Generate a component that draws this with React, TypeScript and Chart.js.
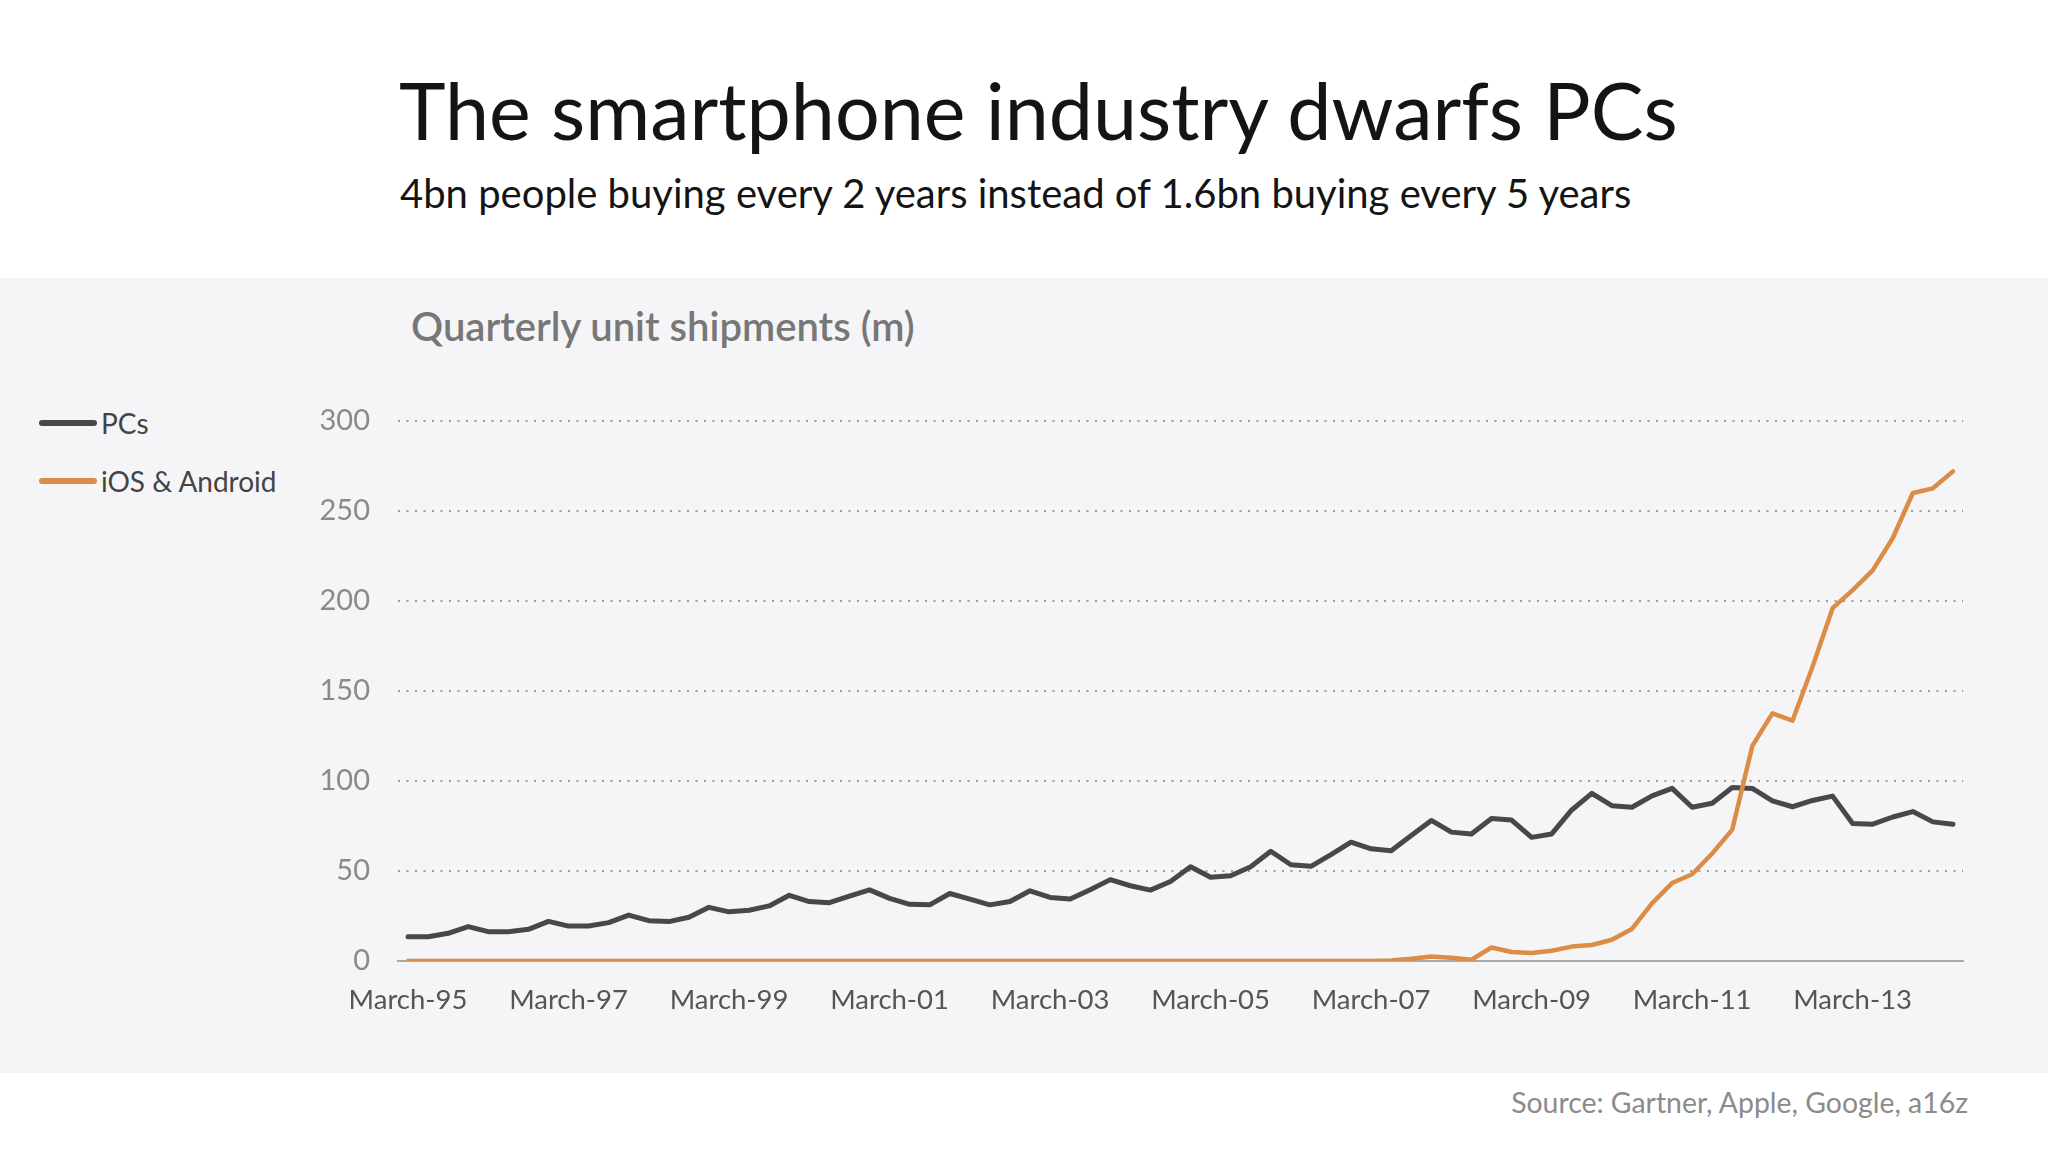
import React, { useEffect, useRef } from 'react';
import { Chart, registerables } from 'chart.js';

Chart.register(...registerables);

// quarter labels, March-95 .. June-14
const quarterMonths = ['March', 'June', 'September', 'December'];
const years = ['95', '96', '97', '98', '99', '00', '01', '02', '03', '04', '05', '06', '07', '08', '09', '10', '11', '12', '13', '14'];
const quarters: string[] = [];
years.forEach((y) => quarterMonths.forEach((m) => quarters.push(m + '-' + y)));
const categories = quarters.slice(0, 78);

// quarterly unit shipments, millions
const pcShipments = [
    13.5, 13.5, 15.4, 19.1, 16.3, 16.3, 17.6, 22.0, 19.4, 19.4,
    21.3, 25.5, 22.4, 21.9, 24.3, 29.8, 27.3, 28.2, 30.6, 36.5,
    33.0, 32.4, 36.0, 39.5, 34.8, 31.5, 31.2, 37.5, 34.4, 31.2,
    33.1, 39.0, 35.3, 34.4, 39.6, 45.2, 41.8, 39.4, 44.2, 52.4,
    46.5, 47.4, 52.4, 61.0, 53.5, 52.6, 59.1, 66.0, 62.3, 61.3,
    69.7, 78.1, 71.6, 70.6, 79.2, 78.3, 68.7, 70.6, 83.9, 93.1,
    86.3, 85.4, 91.7, 95.9, 85.4, 87.6, 96.4, 95.9, 89.0, 85.7,
    89.2, 91.6, 76.4, 76.0, 80.0, 83.0, 77.3, 76.0,
];

const smartphoneShipments = [
    0, 0, 0, 0, 0, 0, 0, 0, 0, 0,
    0, 0, 0, 0, 0, 0, 0, 0, 0, 0,
    0, 0, 0, 0, 0, 0, 0, 0, 0, 0,
    0, 0, 0, 0, 0, 0, 0, 0, 0, 0,
    0, 0, 0, 0, 0, 0, 0, 0, 0, 0.3,
    1.2, 2.5, 1.8, 0.7, 7.5, 5.0, 4.4, 5.7, 8.0, 8.9,
    11.8, 17.8, 32.0, 43.3, 48.2, 59.7, 73.0, 119.5, 137.6, 133.5,
    163.5, 196.0, 206.0, 217.0, 235.0, 260.0, 262.6, 272.0,
];

const yTicks = [0, 50, 100, 150, 200, 250, 300];

const FONT = 'Lato, "Open Sans", sans-serif';
const PC_COLOR = '#48484a';
const PHONE_COLOR = '#dc8d45';

const ShipmentsChart: React.FC = () => {
    const canvasRef = useRef<HTMLCanvasElement | null>(null);
    const chartRef = useRef<Chart | null>(null);

    useEffect(() => {
        if (!canvasRef.current) return;
        const ctx = canvasRef.current.getContext('2d');
        if (!ctx) return;

        chartRef.current = new Chart(ctx, {
            type: 'line',
            data: {
                labels: categories,
                datasets: [
                    {
                        label: 'PCs',
                        data: pcShipments,
                        borderColor: PC_COLOR,
                        borderWidth: 5,
                        pointRadius: 0,
                        tension: 0,
                        borderJoinStyle: 'round',
                        borderCapStyle: 'round',
                        order: 2,
                    },
                    {
                        label: 'iOS & Android',
                        data: smartphoneShipments,
                        borderColor: PHONE_COLOR,
                        borderWidth: 4.5,
                        pointRadius: 0,
                        tension: 0,
                        borderJoinStyle: 'round',
                        borderCapStyle: 'round',
                        order: 1,
                    },
                ],
            },
            options: {
                responsive: false,
                maintainAspectRatio: false,
                animation: false,
                devicePixelRatio: 1,
                layout: { padding: { top: 143, right: 85, left: 0, bottom: 0 } },
                plugins: {
                    legend: { display: false },
                    tooltip: { enabled: false },
                },
                scales: {
                    x: {
                        type: 'category',
                        offset: true,
                        afterFit: (scale: any) => { scale.height = 112; },
                        grid: { display: false },
                        border: { display: true, color: '#a9a9a9', width: 2 },
                        ticks: {
                            autoSkip: false,
                            maxRotation: 0,
                            padding: 15,
                            color: '#555555',
                            font: { family: FONT, size: 27.5 },
                            callback: (_v: any, i: number) => (i % 8 === 0 ? categories[i] : ''),
                        },
                    },
                    y: {
                        type: 'linear',
                        min: yTicks[0],
                        max: yTicks[yTicks.length - 1],
                        afterFit: (scale: any) => { scale.width = 398; },
                        afterBuildTicks: (scale: any) => { scale.ticks = yTicks.map((v) => ({ value: v })); },
                        grid: {
                            drawTicks: false,
                            lineWidth: 2,
                            color: (c: any) => (c.tick && c.tick.value === 0 ? 'rgba(0,0,0,0)' : '#9c9c9c'),
                        },
                        border: { display: false, dash: [2, 6.5] },
                        ticks: {
                            padding: 28,
                            color: '#8a8a8a',
                            font: { family: FONT, size: 29 },
                        },
                    },
                },
            },
        });

        return () => {
            if (chartRef.current) {
                chartRef.current.destroy();
                chartRef.current = null;
            }
        };
    }, []);

    return (
        <canvas
            ref={canvasRef}
            width={2048}
            height={795}
            style={{ position: 'absolute', left: 0, top: 278, width: 2048, height: 795 }}
        />
    );
};

const App: React.FC = () => {
    return (
        <div style={{ position: 'absolute', left: 0, top: 0, width: 2048, height: 1152, background: '#ffffff', overflow: 'hidden', fontFamily: FONT }}>
            <div style={{ position: 'absolute', left: 0, top: 278, width: 2048, height: 795, background: '#f5f5f7' }} />
            <div style={{ position: 'absolute', left: 399, top: 70, fontSize: 79, lineHeight: 1, color: '#141414', whiteSpace: 'nowrap' }}>
                The smartphone industry dwarfs PCs
            </div>
            <div style={{ position: 'absolute', left: 400, top: 173, fontSize: 40, lineHeight: 1, color: '#141414', whiteSpace: 'nowrap' }}>
                4bn people buying every 2 years instead of 1.6bn buying every 5 years
            </div>
            <div style={{ position: 'absolute', left: 411, top: 306, fontSize: 40, lineHeight: 1, fontWeight: 600, color: '#777777', whiteSpace: 'nowrap' }}>
                Quarterly unit shipments (m)
            </div>
            <div style={{ position: 'absolute', left: 39, top: 420, width: 58, height: 6, borderRadius: 3, background: PC_COLOR }} />
            <div style={{ position: 'absolute', left: 101, top: 408, fontSize: 28, lineHeight: '30px', color: '#444444' }}>PCs</div>
            <div style={{ position: 'absolute', left: 39, top: 478, width: 58, height: 6, borderRadius: 3, background: PHONE_COLOR }} />
            <div style={{ position: 'absolute', left: 101, top: 466, fontSize: 28, lineHeight: '30px', color: '#444444' }}>iOS &amp; Android</div>
            <ShipmentsChart />
            <div style={{ position: 'absolute', right: 80, top: 1087, fontSize: 28.4, lineHeight: '30px', color: '#8b8b8b', whiteSpace: 'nowrap' }}>
                Source: Gartner, Apple, Google, a16z
            </div>
        </div>
    );
};

export default App;
